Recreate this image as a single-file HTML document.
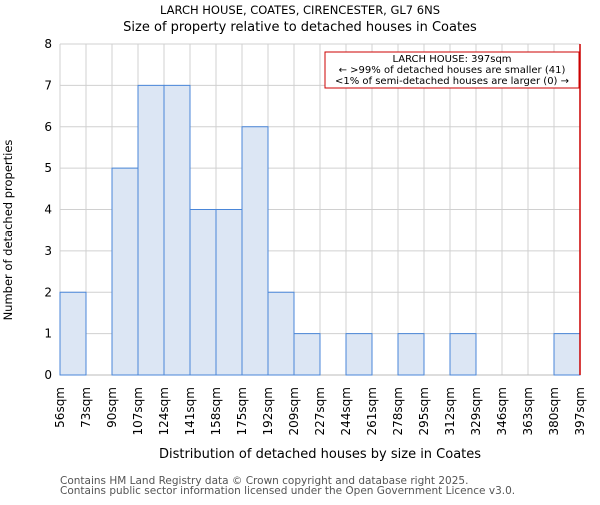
<!DOCTYPE html>
<html><head><meta charset="utf-8"><style>
body{margin:0;background:#fff;}
svg{font-family:"DejaVu Sans","Liberation Sans",sans-serif;}
</style></head><body>
<svg id="chart" width="600" height="500">
<text x="300" y="14" text-anchor="middle" font-size="11.5">LARCH HOUSE, COATES, CIRENCESTER, GL7 6NS</text>
<text x="300" y="31" text-anchor="middle" font-size="13">Size of property relative to detached houses in Coates</text>
<g id="grid"></g><g id="bars"></g><g id="ticks"></g>
<text transform="translate(12,230) rotate(-90)" text-anchor="middle" font-size="11.5">Number of detached properties</text>
<text x="320" y="458" text-anchor="middle" font-size="13">Distribution of detached houses by size in Coates</text>
<text x="60" y="484" font-size="10.5" fill="#555">Contains HM Land Registry data © Crown copyright and database right 2025.</text>
<text x="60" y="494" font-size="10.5" fill="#555">Contains public sector information licensed under the Open Government Licence v3.0.</text>
<g>
<rect x="325" y="52" width="254" height="36" fill="#fff" stroke="#cc0000" stroke-width="1"/>
<text x="452" y="62" text-anchor="middle" font-size="10">LARCH HOUSE: 397sqm</text>
<text x="452" y="73" text-anchor="middle" font-size="10">← &gt;99% of detached houses are smaller (41)</text>
<text x="452" y="84" text-anchor="middle" font-size="10">&lt;1% of semi-detached houses are larger (0) →</text>
</g>
</svg>
<script>
const categories=["56sqm","73sqm","90sqm","107sqm","124sqm","141sqm","158sqm","175sqm","192sqm","209sqm","227sqm","244sqm","261sqm","278sqm","295sqm","312sqm","329sqm","346sqm","363sqm","380sqm","397sqm"];
const counts=[2,0,5,7,7,4,4,6,2,1,0,1,0,1,0,1,0,0,0,1];
const yTicks=[0,1,2,3,4,5,6,7,8];
const markerIndex=20;
const NS="http://www.w3.org/2000/svg";
const X0=60,X1=580,Y0=375,Y1=44,bw=(X1-X0)/counts.length;
const xs=i=>X0+i*bw, ys=v=>Y0-v*(Y0-Y1)/8;
function mk(t,a,p){const e=document.createElementNS(NS,t);for(const k in a)e.setAttribute(k,a[k]);p.appendChild(e);return e;}
const grid=document.getElementById('grid'),bars=document.getElementById('bars'),ticks=document.getElementById('ticks');
yTicks.forEach(v=>{
 const l=mk('line',{x1:X0,x2:X1,y1:ys(v),y2:ys(v),stroke:'#d0d0d0'},grid);
 
 
 const t=mk('text',{x:X0-8,y:ys(v)+4,'text-anchor':'end','font-size':12},ticks);t.textContent=v;
 
 
});
categories.forEach((c,i)=>{
 const l=mk('line',{x1:xs(i),x2:xs(i),y1:Y1,y2:Y0,stroke:'#d0d0d0'},grid);
 
 
 const t=mk('text',{transform:`translate(${xs(i)+4},${Y0+12}) rotate(-90)`,'text-anchor':'end','font-size':12},ticks);t.textContent=c;
 
 
});
counts.forEach((v,i)=>{
 if(v<=0)return;
 const r=mk('rect',{x:xs(i),y:ys(v),width:bw,height:Y0-ys(v),fill:'#dce6f4',stroke:'#4a86d8','stroke-width':1},bars);
 
 
});
const ax=mk('line',{x1:X0,x2:X1,y1:Y0,y2:Y0,stroke:'#bbb'},grid);


const m=mk('line',{x1:xs(markerIndex),x2:xs(markerIndex),y1:Y1,y2:Y0,stroke:'#cc0000','stroke-width':1.5},bars);


</script>
</body></html>
